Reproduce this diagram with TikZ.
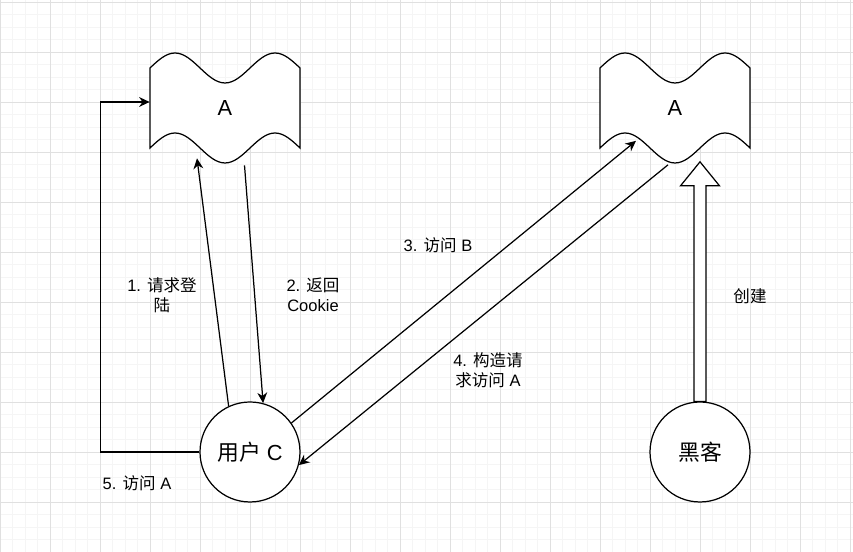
\documentclass[tikz,border=0pt]{standalone}
\usepackage{fontspec}
\setmainfont{Liberation Sans}
\newfontfamily\cjk{Noto Sans CJK SC}
\usetikzlibrary{arrows.meta,calc}

\begin{document}
\begin{tikzpicture}[x=1cm,y=1cm,>={Stealth[length=6pt,width=5.6pt]},
  tapelabel/.style={minimum width=3cm,minimum height=2.2cm,inner sep=0pt,font=\fontsize{12.4}{14}\selectfont},
  actor/.style={circle,draw,fill=white,line width=0.7pt,minimum size=2cm,inner sep=0pt,font=\fontsize{12.4}{14}\selectfont},
  note/.style={align=center,font=\fontsize{9.4}{11.4}\selectfont},
  link/.style={->,line width=0.7pt}]
  \useasboundingbox (0,0) rectangle (17.06,11.04);
  % grid
  \draw[black!4,line width=0.4pt] (0,0) grid[step=0.25] (17.06,11.04);
  \draw[black!12,line width=0.5pt] (0,0) grid[step=1] (17.06,11.04);
  % tapes
  \foreach \nm/\cx in {tapeA/4.5,tapeB/13.5} {
    \draw[line width=0.7pt,fill=white,shift={(\cx,8.88)}]
      (-1.5,0.8) sin (-1,1.1) cos (-0.5,0.8) sin (0,0.5) cos (0.5,0.8) sin (1,1.1) cos (1.5,0.8)
      -- (1.5,-0.8) sin (1,-0.5) cos (0.5,-0.8) sin (0,-1.1) cos (-0.5,-0.8) sin (-1,-0.5) cos (-1.5,-0.8) -- cycle;
    \node[tapelabel] (\nm) at (\cx,8.88) {A};
  }
  % block arrow: hacker creates B
  \node[actor] (hacker) at (14,2) {{\cjk 黑客}};
  \coordinate (tip) at ($(tapeB.south)+(0.5,0.03)$);
  \draw[line width=0.7pt,fill=white] ($(hacker.north)+(-0.12,0)$) -- ($(tip)+(-0.12,-0.48)$)
    -- ($(tip)+(-0.39,-0.48)$) -- (tip) -- ($(tip)+(0.39,-0.48)$)
    -- ($(tip)+(0.12,-0.48)$) -- ($(hacker.north)+(0.12,0)$) -- cycle;
  \node[actor] (userC) at (5,2) {{\cjk 用户} C};
  % connectors
  \draw[link] (userC.115) -- ($(tapeA.south)+(-0.56,0.1)$);
  \draw[link] ($(tapeA.south)+(0.39,-0.04)$) -- (userC.75);
  \draw[link] (userC.35) -- ($(tapeB.south)+(-0.78,0.45)$);
  \draw[link] ($(tapeB.south)+(-0.14,-0.03)$) -- (userC.-15);
  \draw[link] (userC.west) -- ++(-1.98,0) |- ($(tapeA.west)+(0,0.12)$);
  % labels
  \node[note] (lblLogin) at (3.24,5.14) {1. {\cjk 请求登}\\{\cjk 陆}};
  \node[note] (lblCookie) at (6.26,5.14) {2. {\cjk 返回}\\Cookie};
  \node[note] (lblVisitB) at (8.76,6.14) {3. {\cjk 访问} B};
  \node[note] (lblForge) at (9.76,3.64) {4. {\cjk 构造请}\\{\cjk 求访问} A};
  \node[note] (lblVisitA) at (2.74,1.38) {5. {\cjk 访问} A};
  \node[note] (lblCreate) at (15.0,5.12) {{\cjk 创建}};
\end{tikzpicture}
\end{document}
